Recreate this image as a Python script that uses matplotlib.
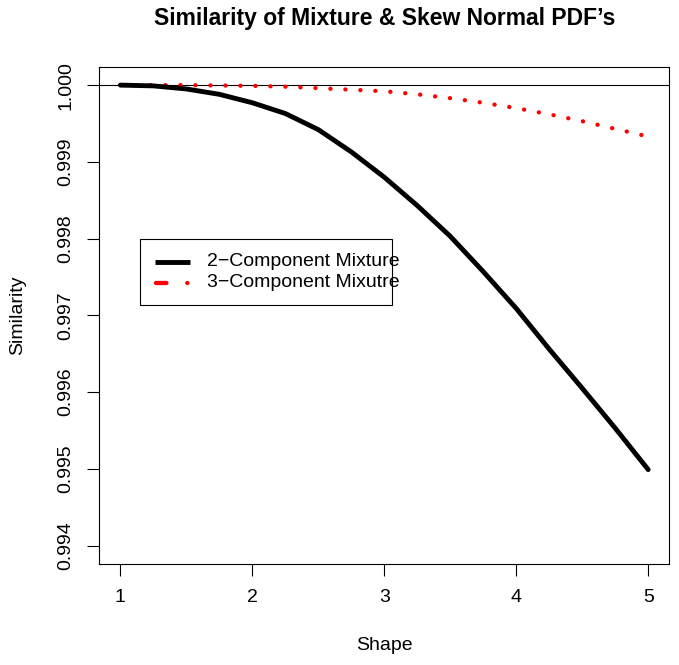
import matplotlib
matplotlib.use('Agg')
import matplotlib.pyplot as plt
from matplotlib.lines import Line2D
from matplotlib.patches import Rectangle

# ---- data ----
shape = [1.0, 1.25, 1.5, 1.75, 2.0, 2.25, 2.5, 2.75, 3.0, 3.25, 3.5, 3.75, 4.0, 4.25, 4.5, 4.75, 5.0]
sim_2comp = [1.0, 0.99999, 0.99995, 0.99988, 0.99977, 0.99963, 0.99942, 0.99913, 0.99880,
             0.99843, 0.99803, 0.99757, 0.99709, 0.99656, 0.99605, 0.99553, 0.99499]
sim_3comp = [1.0, 1.0, 1.0, 0.999995, 0.99999, 0.99998, 0.99996, 0.99994, 0.99992,
             0.99988, 0.99983, 0.99977, 0.99970, 0.99962, 0.99953, 0.99943, 0.99933]
x_ticks = [1, 2, 3, 4, 5]
y_ticks = [0.994, 0.995, 0.996, 0.997, 0.998, 0.999, 1.000]
labels = ["2\u2212Component Mixture", "3\u2212Component Mixutre"]
title = "Similarity of Mixture & Skew Normal PDF\u2019s"

plt.rcParams['font.family'] = ['Liberation Sans', 'DejaVu Sans']
plt.rcParams['lines.scale_dashes'] = False

W, H = 679, 665
fig = plt.figure(figsize=(W / 100, H / 100), dpi=100)
L, R, T, B = 99.3, 669.3, 66.7, 564.0
ax = fig.add_axes([L / W, 1 - B / H, (R - L) / W, (B - T) / H])

ax.set_xlim(0.84, 5.16)
ax.set_ylim(0.99376, 1.00024)

ax.axhline(1.0, color='black', lw=0.8, zorder=1)
ax.plot(shape, sim_2comp, color='black', lw=3.5, solid_capstyle='round',
        solid_joinstyle='round', zorder=3)
ax.plot(shape, sim_3comp, color='red', lw=3.1, linestyle=(0, (0.1, 10.7)),
        dash_capstyle='round', zorder=2)

ax.set_xticks(x_ticks)
ax.set_xticklabels([str(v) for v in x_ticks])
ax.set_yticks(y_ticks)
ax.set_yticklabels([f"{v:.3f}" for v in y_ticks], rotation=90, va='center')
ax.tick_params(axis='both', direction='out', length=8.6, width=0.8,
               labelsize=14, pad=9.5, colors='black')
for s in ax.spines.values():
    s.set_linewidth(0.8)
    s.set_color('black')

def P(x, y):
    return (x / W, 1 - y / H)

# legend (R style box)
x0, y0, x1, y1 = 140, 239, 392, 305
fig.patches.append(Rectangle(P(x0, y1), (x1 - x0) / W, (y1 - y0) / H,
                             transform=fig.transFigure, fill=True, facecolor='white',
                             edgecolor='black', lw=0.8, zorder=5))
ly1, ly2 = 261.7, 282.7
fig.lines.append(Line2D([155 / W, 190 / W], [1 - ly1 / H, 1 - ly1 / H],
                        transform=fig.transFigure, color='black', lw=3.5,
                        solid_capstyle='butt', zorder=6))
fig.lines.append(Line2D([156 / W, 190 / W], [1 - ly2 / H, 1 - ly2 / H],
                        transform=fig.transFigure, color='red', lw=3.1,
                        linestyle=(0, (7.5, 15, 0.1, 30)), dash_capstyle='round', zorder=6))
fig.text(*P(207, ly1), labels[0], ha='left', va='center', fontsize=14, zorder=7)
fig.text(*P(207, ly2), labels[1], ha='left', va='center', fontsize=14, zorder=7)

fig.text(*P((L + R) / 2, 19), title, ha='center', va='center', fontsize=16.5, fontweight='bold')
fig.text(*P(18, (T + B) / 2), "Similarity", rotation=90, ha='center', va='center', fontsize=14)
fig.text(*P((L + R) / 2, 646), "Shape", ha='center', va='center', fontsize=14)

fig.savefig('out.png', dpi=100)
